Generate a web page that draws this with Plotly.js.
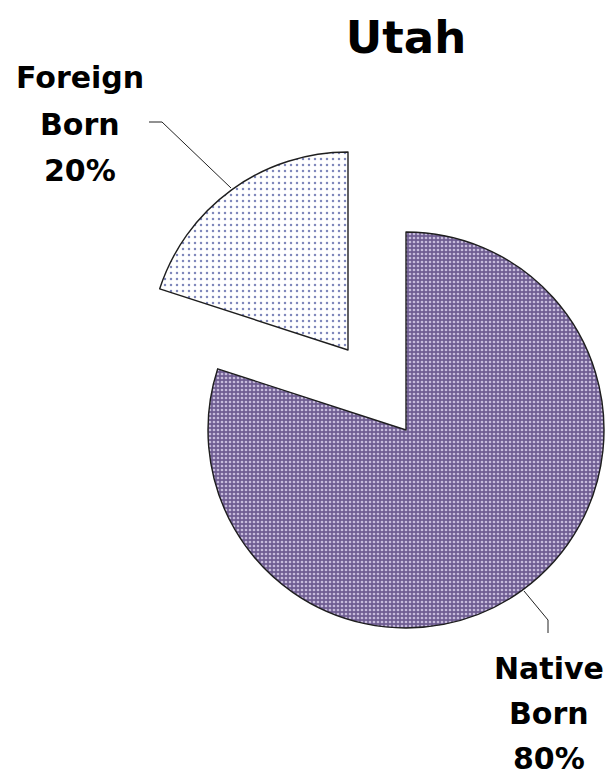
<!DOCTYPE html>
<html>
<head>
<meta charset="utf-8">
<script src="https://cdn.plot.ly/plotly-3.0.1.min.js"></script>
<style>html,body{margin:0;padding:0;background:#fff;}#chart{width:606px;height:775px;}</style>
</head>
<body>
<div id="chart"></div>
<script>
// ---- data ----
const chartTitle = "Utah";
const categories = ["Foreign Born", "Native Born"];
const values = [20, 80];

// ---- layout helpers (pixel -> paper) ----
const W = 606, H = 775;
const px = x => x / W;
const py = y => 1 - y / H;

function pieDomain(cx, cy, r) {
  return { x: [px(cx - r), px(cx + r)], y: [py(cy + r), py(cy - r)] };
}

const total = values.reduce((a, b) => a + b, 0);
const R = 198;
const fills = [
  { bg: "#ffffff", fg: "#8088bb", size: 6, solidity: 0.14 },
  { bg: "#6f5d92", fg: "#c6badb", size: 4, solidity: 0.36 }
];
const centers = [[348, 350], [406, 430]];
const clear = "rgba(0,0,0,0)";

const traces = [1, 0].map(k => ({
  type: "pie",
  labels: categories,
  values: values,
  sort: false,
  direction: "clockwise",
  rotation: -360 * values[0] / total,
  textinfo: "none",
  hoverinfo: "none",
  showlegend: false,
  domain: pieDomain(centers[k][0], centers[k][1], R),
  marker: {
    colors: categories.map((c, i) => i === k ? fills[i].bg : clear),
    line: { color: "#1e1e1e", width: categories.map((c, i) => i === k ? 1.4 : 0) },
    pattern: {
      shape: categories.map((c, i) => i === k ? "." : ""),
      fgcolor: categories.map((c, i) => i === k ? fills[i].fg : clear),
      bgcolor: categories.map((c, i) => i === k ? fills[i].bg : clear),
      size: fills[k].size,
      solidity: fills[k].solidity,
      fillmode: "replace"
    }
  }
}));

// label lines built from the data
const labelLines = categories.map((c, i) => c.split(" ").concat([values[i] + "%"]));
const labelFont = { family: "DejaVu Sans, Verdana, sans-serif", size: 30, color: "#000" };
const labelPos = [{ x: 80, y0: 78, dy: 46 }, { x: 549, y0: 668, dy: 45 }];

const annotations = [];
labelLines.forEach((lines, i) => {
  lines.forEach((t, j) => {
    annotations.push({
      text: "<b>" + t + "</b>", xref: "paper", yref: "paper",
      x: px(labelPos[i].x), y: py(labelPos[i].y0 + j * labelPos[i].dy),
      showarrow: false, xanchor: "center", yanchor: "middle", font: labelFont
    });
  });
});

const layout = {
  width: W, height: H,
  margin: { l: 0, r: 0, t: 0, b: 0 },
  paper_bgcolor: "#fff",
  title: {
    text: "<b>" + chartTitle + "</b>",
    font: { family: "DejaVu Sans, Verdana, sans-serif", size: 45, color: "#000" },
    x: px(406), xanchor: "center", xref: "paper",
    y: py(37), yanchor: "middle", yref: "paper"
  },
  annotations: annotations,
  shapes: [
    { type: "path", xref: "paper", yref: "paper",
      path: `M ${px(149)} ${py(122)} L ${px(162)} ${py(122)} L ${px(231)} ${py(188)}`,
      line: { color: "#222", width: 1 } },
    { type: "path", xref: "paper", yref: "paper",
      path: `M ${px(524)} ${py(591)} L ${px(548)} ${py(620)} L ${px(548)} ${py(633)}`,
      line: { color: "#222", width: 1 } }
  ]
};

Plotly.newPlot("chart", traces, layout, { staticPlot: true, displayModeBar: false });
</script>
</body>
</html>
